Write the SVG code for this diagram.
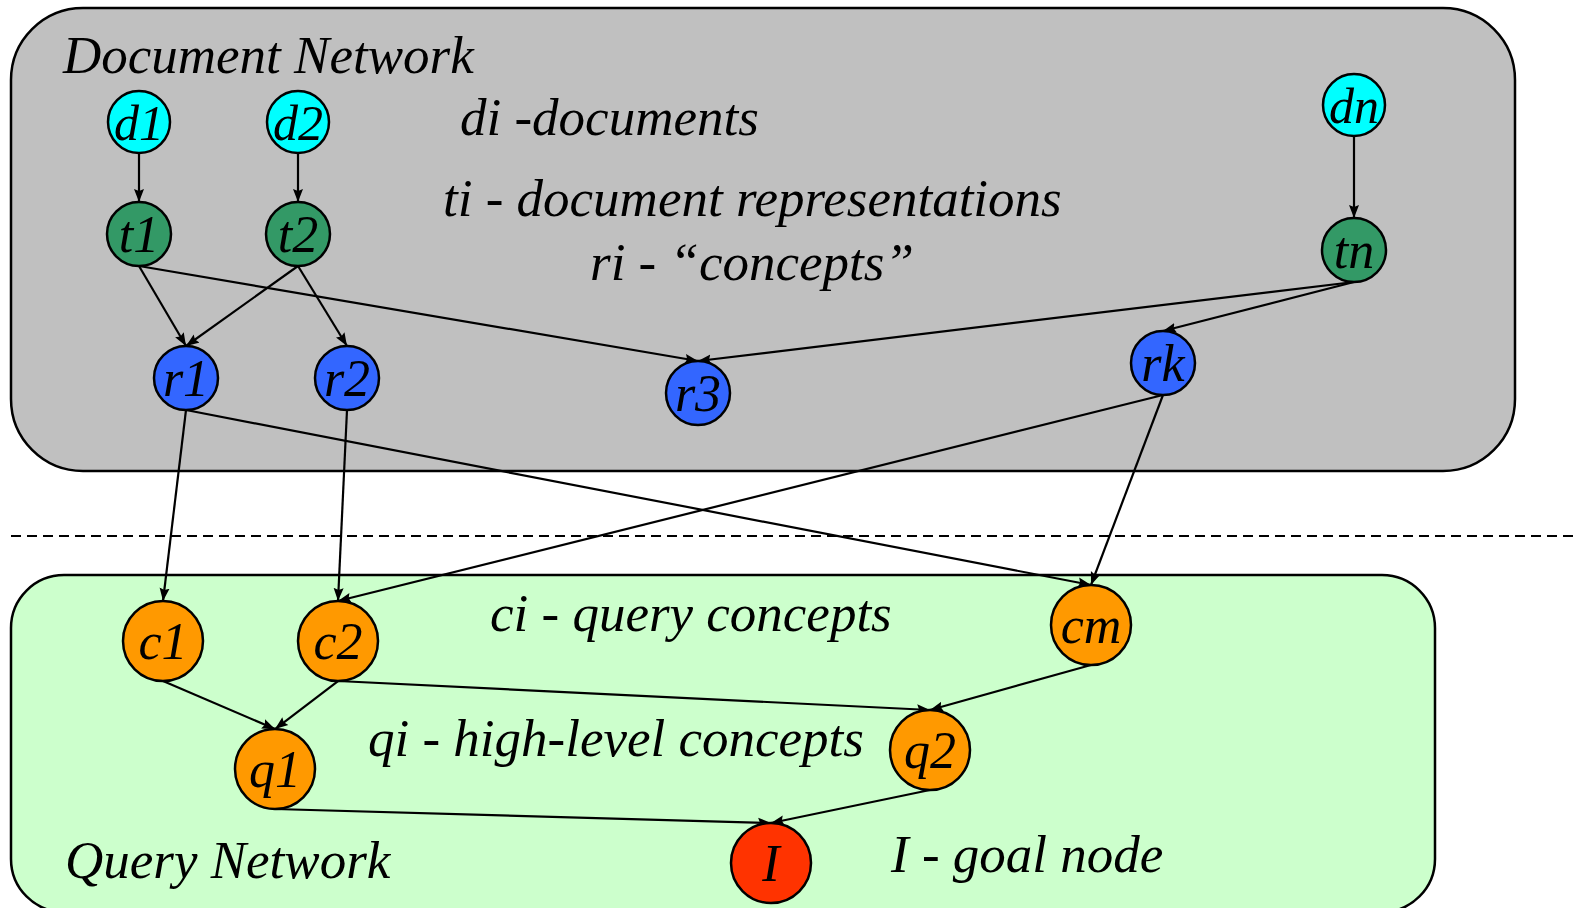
<svg xmlns="http://www.w3.org/2000/svg" width="1579" height="908" viewBox="0 0 1579 908">
<style>
.box{stroke:#000;stroke-width:2.5}
.n{stroke:#000;stroke-width:2.5}
.lbl{font-family:"Liberation Serif","Times New Roman",serif;font-style:italic;font-size:52px;fill:#000;text-anchor:middle}
.txt{font-family:"Liberation Serif","Times New Roman",serif;font-style:italic;font-size:53px;fill:#000}
.e{stroke:#000;stroke-width:2.2;fill:none;marker-end:url(#arr)}
.d{fill:#00FFFF}.t{fill:#339966}.r{fill:#3366FF}.o{fill:#FF9900}.g{fill:#FF3300}
</style>
<defs>
<marker id="arr" markerUnits="userSpaceOnUse" markerWidth="14" markerHeight="11" refX="13" refY="5.5" orient="auto">
<path d="M0,0.5 L13,5.5 L0,10.5 L2,5.5 z" fill="#000"/>
</marker>
</defs>
<rect width="1579" height="908" fill="#fff"/>
<g id="document-network">
<rect class="box" x="11" y="8" width="1504" height="463" rx="72" ry="72" fill="#C0C0C0"/>
<text class="txt" x="63" y="73">Document Network</text>
</g>
<g id="query-network">
<rect class="box" x="11" y="575" width="1424" height="337" rx="53" ry="53" fill="#CCFFCC"/>
<text class="txt" x="65" y="878">Query Network</text>
</g>
<line id="divider" x1="11" y1="536" x2="1579" y2="536" stroke="#000" stroke-width="2" stroke-dasharray="10,6"/>
<g id="legend">
<text class="txt" x="460" y="135">di -documents</text>
<text class="txt" x="443" y="216">ti - document representations</text>
<text class="txt" x="590" y="280">ri - “concepts”</text>
<text class="txt" x="490" y="631">ci - query concepts</text>
<text class="txt" x="368" y="756">qi - high-level concepts</text>
<text class="txt" x="891" y="872">I - goal node</text>
</g>
<g id="connectors">
<line class="e" x1="139" y1="153" x2="139" y2="202"/>
<line class="e" x1="298" y1="153" x2="298" y2="202"/>
<line class="e" x1="1354" y1="136" x2="1354" y2="218"/>
<line class="e" x1="139" y1="266" x2="186" y2="346"/>
<line class="e" x1="139" y1="266" x2="698" y2="361"/>
<line class="e" x1="298" y1="266" x2="186" y2="346"/>
<line class="e" x1="298" y1="266" x2="347" y2="346"/>
<line class="e" x1="1354" y1="282" x2="698" y2="361"/>
<line class="e" x1="1354" y1="282" x2="1163" y2="331"/>
<line class="e" x1="186" y1="410" x2="163" y2="601"/>
<line class="e" x1="186" y1="410" x2="1091" y2="585"/>
<line class="e" x1="347" y1="410" x2="338" y2="601"/>
<line class="e" x1="1163" y1="395" x2="338" y2="601"/>
<line class="e" x1="1163" y1="395" x2="1091" y2="585"/>
<line class="e" x1="163" y1="681" x2="275" y2="729"/>
<line class="e" x1="338" y1="681" x2="275" y2="729"/>
<line class="e" x1="338" y1="681" x2="930" y2="710"/>
<line class="e" x1="1091" y1="665" x2="930" y2="710"/>
<line class="e" x1="275" y1="809" x2="771" y2="823"/>
<line class="e" x1="930" y1="790" x2="771" y2="823"/>
</g>
<g id="d1"><circle class="n d" cx="139" cy="122" r="31"/><text class="lbl" x="139" y="140" style="font-size:50px">d1</text></g>
<g id="d2"><circle class="n d" cx="298" cy="122" r="31"/><text class="lbl" x="298" y="140" style="font-size:50px">d2</text></g>
<g id="dn"><circle class="n d" cx="1354" cy="105" r="31"/><text class="lbl" x="1354" y="123" style="font-size:50px">dn</text></g>
<g id="t1"><circle class="n t" cx="139" cy="234" r="32"/><text class="lbl" x="139" y="252">t1</text></g>
<g id="t2"><circle class="n t" cx="298" cy="234" r="32"/><text class="lbl" x="298" y="252">t2</text></g>
<g id="tn"><circle class="n t" cx="1354" cy="250" r="32"/><text class="lbl" x="1354" y="268">tn</text></g>
<g id="r1"><circle class="n r" cx="186" cy="378" r="32"/><text class="lbl" x="186" y="396">r1</text></g>
<g id="r2"><circle class="n r" cx="347" cy="378" r="32"/><text class="lbl" x="347" y="396">r2</text></g>
<g id="r3"><circle class="n r" cx="698" cy="393" r="32"/><text class="lbl" x="698" y="411">r3</text></g>
<g id="rk"><circle class="n r" cx="1163" cy="363" r="32"/><text class="lbl" x="1163" y="381">rk</text></g>
<g id="c1"><circle class="n o" cx="163" cy="641" r="40"/><text class="lbl" x="163" y="659">c1</text></g>
<g id="c2"><circle class="n o" cx="338" cy="641" r="40"/><text class="lbl" x="338" y="659">c2</text></g>
<g id="cm"><circle class="n o" cx="1091" cy="625" r="40"/><text class="lbl" x="1091" y="643">cm</text></g>
<g id="q1"><circle class="n o" cx="275" cy="769" r="40"/><text class="lbl" x="275" y="787">q1</text></g>
<g id="q2"><circle class="n o" cx="930" cy="750" r="40"/><text class="lbl" x="930" y="768">q2</text></g>
<g id="I"><circle class="n g" cx="771" cy="863" r="40"/><text class="lbl" x="771" y="881">I</text></g>
</svg>
